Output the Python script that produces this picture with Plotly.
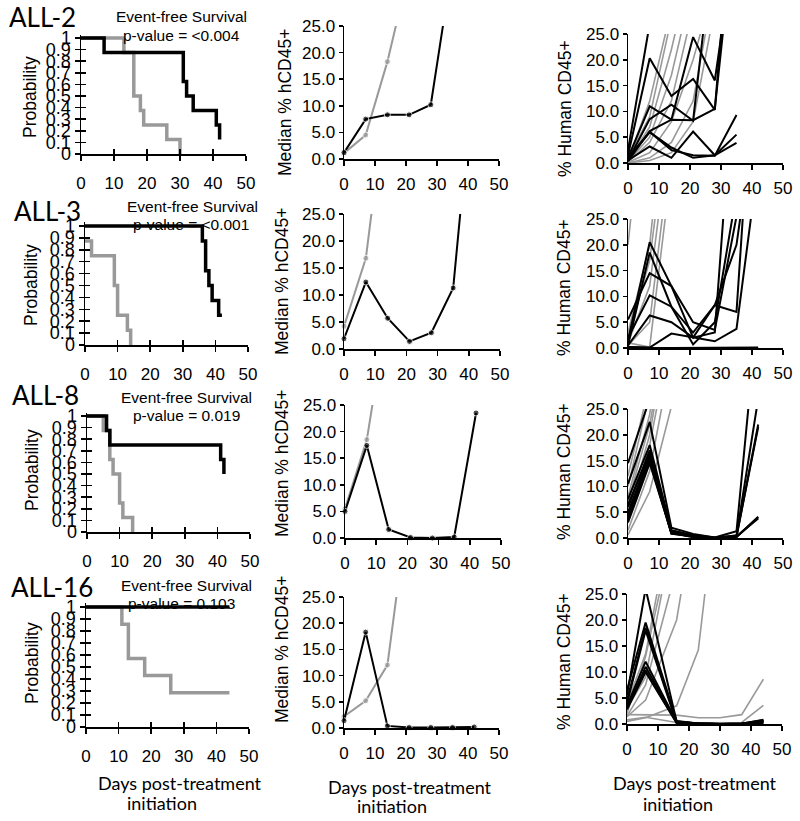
import plotly.graph_objects as go

W, H = 800, 821
BLACK = "#000000"
GRAY = "#999999"

# ---------------- DATA ----------------
# Kaplan-Meier event-free survival: days and survival probability
km2_ctrl_days = [0, 13, 16, 18, 19, 26, 30]
km2_ctrl_surv = [1, 0.875, 0.5, 0.375, 0.25, 0.125, 0]
km2_trt_days = [0, 7, 31, 32, 34, 41, 42]
km2_trt_surv = [1, 0.875, 0.625, 0.5, 0.375, 0.25, 0.125]

km3_ctrl_days = [0, 2, 9, 10, 13, 14]
km3_ctrl_surv = [0.875, 0.75, 0.5, 0.25, 0.125, 0]
km3_trt_days = [0, 36, 37, 38, 39, 41, 42]
km3_trt_surv = [1, 0.875, 0.625, 0.5, 0.375, 0.25, 0.25]

km8_ctrl_days = [0, 5, 7, 8, 10, 11, 14]
km8_ctrl_surv = [1, 0.875, 0.625, 0.5, 0.25, 0.125, 0]
km8_trt_days = [0, 6, 7, 41, 42]
km8_trt_surv = [1, 0.875, 0.75, 0.625, 0.5]

km16_ctrl_days = [0, 11, 13, 18, 26, 44]
km16_ctrl_surv = [1, 0.857, 0.571, 0.429, 0.286, 0.286]
km16_trt_days = [0, 44]
km16_trt_surv = [1, 1]

# Median % hCD45+
median_days = [0, 7, 14, 21, 28, 35, 42]
med2_ctrl = [1.1, 4.5, 18.3, 35.5]
med2_trt = [1.2, 7.5, 8.3, 8.3, 10.2, 36.7]
med3_ctrl = [4.2, 16.8, 49.0]
med3_trt = [1.9, 12.4, 5.7, 1.4, 3.0, 11.3, 54.0]
med8_ctrl = [5.5, 18.5, 44.0]
med8_trt = [5.0, 17.4, 1.6, 0.1, 0.0, 0.2, 23.5]
med16_ctrl = [2.2, 5.2, 12.0, 43.5]
med16_trt = [1.4, 18.3, 0.4, 0.1, 0.1, 0.1, 0.2]

# Individual mice % human CD45+
mice_days = [0, 7, 14, 21, 28, 35, 42]
mice16_days = [0, 6, 16, 23, 30, 37, 44]

mice2_ctrl = [
    [0.5, 12, 30], [1.0, 9, 28], [0.5, 7, 22, 40], [0.3, 5, 17, 35],
    [0.2, 4, 12, 30], [0.1, 2, 8, 20, 35], [0.0, 1, 4, 12, 35], [0.0, 0.5, 2, 8, 30],
]
mice2_trt = [
    [2.5, 27], [1.5, 20.3, 13.0, 16.3, 10.3, 61], [1.0, 11.0, 8.4, 24.4, 16.0, 45],
    [0.5, 8.5, 11.3, 8.2, 45], [0.3, 6.2, 8.4, 8.3, 10.5, 50],
    [0.8, 6.0, 2.5, 1.5, 1.4, 9.3], [0.5, 3.2, 1.0, 6.1, 1.5, 5.5], [1.0, 6.0, 3.0, 1.0, 1.5, 3.9],
]
mice3_ctrl = [
    [20, 60], [2.0, 17, 50], [1.0, 12, 45], [0.5, 5, 40], [1.0, 0.2, 35], [3.0, 20, 60],
]
mice3_trt = [
    [1.5, 20.5, 12.0, 2.0, 3.0, 60], [0.5, 18.5, 8.0, 0.7, 5.0, 30],
    [5.5, 14.5, 12.0, 5.0, 3.5, 25.5, 50], [2.0, 10.2, 8.0, 3.0, 8.3, 7.0, 70],
    [0.5, 6.3, 5.0, 2.0, 8.3, 20, 50], [0.2, 0.1, 2.8, 2.0, 1.3, 3.7, 36],
    [0.2, 0.0, 0.0, 0.0, 0.0, 0.0, 0.1],
]
mice8_ctrl = [
    [12, 30], [10, 28], [8, 24, 50], [7, 22, 45], [5, 20, 45], [3, 18, 40],
    [1.5, 13, 35], [0.6, 9, 25.5, 40],
]
mice8_trt = [
    [14.5, 27], [10.5, 22.5, 2.0, 0.8, 0.1, 1.3, 45], [7.5, 18, 1.5, 0.5, 0, 0.3, 22],
    [6, 17, 1.2, 0.3, 0, 0.3, 21.5], [5, 16, 1.0, 0.2, 0, 0.5, 27],
    [4, 15.5, 0.9, 0.2, 0, 0.2, 4], [3.5, 15, 0.8, 0.4, 0, 0.3, 3.8],
    [3, 14.5, 1.0, 0.3, 0, 0.2, 4.1], [6.5, 16.5, 1.4, 0.6, 0.1, 0.5], [4.5, 15.8, 1.2, 0.4, 0.05, 0.3],
]
mice16_ctrl = [
    [1.5, 7.5, 30], [2, 13, 40], [4, 13.5, 45], [3, 9, 40], [1.4, 4.6, 20, 45],
    [0.5, 1.2, 3.5, 14.2, 50], [1.8, 1.8, 1.7, 1.2, 1.2, 1.8, 8.6], [0.8, 1.3, 0.3, 0.2, 0.2, 0.3, 3.6],
]
mice16_trt = [
    [5.5, 26, 0.5, 0.1, 0, 0, 0.6], [6.5, 19.5, 0.6, 0.1, 0.05, 0.05, 0.8],
    [4.5, 18.5, 0.4, 0.1, 0, 0.1, 0.7], [4, 18, 0.3, 0, 0, 0, 0.5],
    [3.5, 12, 0.4, 0.1, 0, 0.1, 0.4], [3, 11, 0.5, 0, 0, 0, 0.6],
    [3.2, 10.3, 0.3, 0.1, 0, 0, 0.3], [2.8, 10, 0.2, 0, 0, 0, 0.2],
]

row_labels = ["ALL-2", "ALL-3", "ALL-8", "ALL-16"]
pvalue_labels = ["p-value = <0.004", "p-value = <0.001", "p-value = 0.019", "p-value = 0.103"]
km_tick_vals = [0, 0.1, 0.2, 0.3, 0.4, 0.5, 0.6, 0.7, 0.8, 0.9, 1]
km_tick_text = ["0", "0.1", "0.2", "0.3", "0.4", "0.5", "0.6", "0.7", "0.8", "0.9", "1"]
day_ticks = [0, 10, 20, 30, 40, 50]
pct_ticks = [0, 5, 10, 15, 20, 25]
pct_tick_text = ["0.0", "5.0", "10.0", "15.0", "20.0", "25.0"]

rows = [
    dict(km=[(km2_ctrl_days, km2_ctrl_surv), (km2_trt_days, km2_trt_surv)],
         med=(med2_ctrl, med2_trt), mice=(mice2_ctrl, mice2_trt, mice_days)),
    dict(km=[(km3_ctrl_days, km3_ctrl_surv), (km3_trt_days, km3_trt_surv)],
         med=(med3_ctrl, med3_trt), mice=(mice3_ctrl, mice3_trt, mice_days)),
    dict(km=[(km8_ctrl_days, km8_ctrl_surv), (km8_trt_days, km8_trt_surv)],
         med=(med8_ctrl, med8_trt), mice=(mice8_ctrl, mice8_trt, mice_days)),
    dict(km=[(km16_ctrl_days, km16_ctrl_surv), (km16_trt_days, km16_trt_surv)],
         med=(med16_ctrl, med16_trt), mice=(mice16_ctrl, mice16_trt, mice16_days)),
]

# ---------------- GEOMETRY (pixels) ----------------
# (x of 0, x of 50, y of top value, y of 0)
km_geom = [(81, 246, 38, 154), (85, 248, 226, 345), (87, 250, 416, 532), (86, 249, 607, 727)]
med_geom = [(344, 499, 26, 159), (344, 500, 214, 349), (345, 501, 405, 538), (344, 499, 597, 728)]
mice_geom = [(628, 783, 34, 163), (628, 783, 219, 348), (628, 783, 409, 538), (627, 782, 594, 724)]

all_pos = [(7, 17), (12, 211), (10, 395), (9, 587)]
efs_pos = [(181, 17), (192, 206), (186, 397), (186, 585)]
pv_pos = [(181, 36), (191, 224), (186, 415), (181, 603)]
prob_pos = [(30, 97), (31, 285), (32, 470), (32, 663)]
med_title_pos = [(285, 103), (282, 282), (282, 464), (282, 650)]
mice_title_pos = [(565, 109), (564, 288), (564, 472), (564, 662)]

KM_TOP = 1.03


def xd(a, b):
    return [a / W, b / W]


def yd(top, bottom):
    return [1 - bottom / H, 1 - top / H]


def aid(n):
    return "" if n == 1 else str(n)


tickfont = dict(family="Liberation Sans, Arial, sans-serif", size=17, color="black")
common = dict(showgrid=False, zeroline=False, showline=True, linecolor="black", linewidth=1.5,
              ticks="outside", tickcolor="black", tickwidth=1.5, tickfont=tickfont,
              fixedrange=True, tickangle=0, automargin=False)

fig = go.Figure()
layout = dict(template="none", width=W, height=H, margin=dict(l=0, r=0, t=0, b=0, autoexpand=False),
              paper_bgcolor="white", plot_bgcolor="white", showlegend=False, hovermode=False)
annotations = []


def ann(text, x, y, size, family, xanchor="center", angle=0):
    annotations.append(dict(text=text, x=x / W, y=1 - y / H, xref="paper", yref="paper",
                            xanchor=xanchor, yanchor="middle", showarrow=False, textangle=angle,
                            font=dict(family=family, size=size, color="black")))


for r, row in enumerate(rows):
    # ---- Kaplan-Meier ----
    n = r * 3 + 1
    x0, x50, y1, y0 = km_geom[r]
    ytop = y0 - (y0 - y1) * KM_TOP
    layout["xaxis" + aid(n)] = dict(common, domain=xd(x0, x50), anchor="y" + aid(n), range=[0, 50],
                                    tickvals=day_ticks, ticklen=5, ticklabelstandoff=8)
    layout["yaxis" + aid(n)] = dict(common, domain=yd(ytop, y0), anchor="x" + aid(n), range=[0, KM_TOP],
                                    tickvals=km_tick_vals, ticktext=km_tick_text, ticklen=5,
                                    tickfont=dict(tickfont, size=18))
    ox = 12 + 2 * r + 1
    oy = 12 + 2 * r + 2
    layout["xaxis" + str(ox)] = dict(showgrid=False, zeroline=False, showline=False, overlaying="x" + aid(n),
                                     anchor="y" + aid(n), domain=xd(x0, x50), range=[0, 50], tickvals=day_ticks[1:],
                                     ticks="inside", ticklen=5, tickwidth=1.5, tickcolor="black",
                                     showticklabels=False, fixedrange=True, automargin=False)
    layout["yaxis" + str(oy)] = dict(showgrid=False, zeroline=False, showline=False, overlaying="y" + aid(n),
                                     anchor="x" + aid(n), domain=yd(ytop, y0), range=[0, KM_TOP],
                                     tickvals=km_tick_vals, ticks="inside", ticklen=5, tickwidth=1.5,
                                     tickcolor="black", showticklabels=False, fixedrange=True, automargin=False)
    fig.add_trace(go.Scatter(x=[None], y=[None], xaxis="x" + str(ox), yaxis="y" + aid(n), hoverinfo="skip"))
    fig.add_trace(go.Scatter(x=[None], y=[None], xaxis="x" + aid(n), yaxis="y" + str(oy), hoverinfo="skip"))
    for (days, surv), col in zip(row["km"], [GRAY, BLACK]):
        fig.add_trace(go.Scatter(x=days, y=surv, mode="lines", xaxis="x" + aid(n), yaxis="y" + aid(n),
                                 line=dict(color=col, width=3.5, shape="hv")))

    # ---- Median ----
    n = r * 3 + 2
    x0, x50, y25, y0 = med_geom[r]
    layout["xaxis" + aid(n)] = dict(common, domain=xd(x0, x50), anchor="y" + aid(n), range=[0, 50],
                                    tickvals=day_ticks, ticklen=5, ticklabelstandoff=4)
    layout["yaxis" + aid(n)] = dict(common, domain=yd(y25, y0), anchor="x" + aid(n), range=[0, 25],
                                    tickvals=pct_ticks, ticktext=pct_tick_text, ticklen=4)
    for vals, col in zip(row["med"], [GRAY, BLACK]):
        fig.add_trace(go.Scatter(x=median_days[:len(vals)], y=vals, mode="lines+markers",
                                 xaxis="x" + aid(n), yaxis="y" + aid(n), cliponaxis=False,
                                 line=dict(color=col, width=2),
                                 marker=dict(color=col, size=[6 if v <= 25 else 0 for v in vals])))

    # ---- Individual mice ----
    n = r * 3 + 3
    x0, x50, y25, y0 = mice_geom[r]
    layout["xaxis" + aid(n)] = dict(common, domain=xd(x0, x50), anchor="y" + aid(n), range=[0, 50],
                                    tickvals=day_ticks, ticklen=5, ticklabelstandoff=4)
    layout["yaxis" + aid(n)] = dict(common, domain=yd(y25, y0), anchor="x" + aid(n), range=[0, 25],
                                    tickvals=pct_ticks, ticktext=pct_tick_text, ticklen=4)
    ctrl, trt, mdays = row["mice"]
    for vals in ctrl:
        fig.add_trace(go.Scatter(x=mdays[:len(vals)], y=vals, mode="lines", xaxis="x" + aid(n),
                                 yaxis="y" + aid(n), line=dict(color=GRAY, width=1.6)))
    for vals in trt:
        fig.add_trace(go.Scatter(x=mdays[:len(vals)], y=vals, mode="lines", xaxis="x" + aid(n),
                                 yaxis="y" + aid(n), line=dict(color=BLACK, width=2)))

    # ---- texts ----
    ann(row_labels[r], all_pos[r][0], all_pos[r][1], 26, "Lato, Noto Sans, sans-serif", xanchor="left")
    ann("Event-free Survival", efs_pos[r][0], efs_pos[r][1], 15.5, "Liberation Sans, Arial")
    ann(pvalue_labels[r], pv_pos[r][0], pv_pos[r][1], 15.5, "Liberation Sans, Arial")
    ann("Probability", prob_pos[r][0], prob_pos[r][1], 17.5, "Liberation Sans, Arial", angle=-90)
    ann("Median % hCD45+", med_title_pos[r][0], med_title_pos[r][1], 17.5, "Liberation Sans, Arial", angle=-90)
    ann("% Human CD45+", mice_title_pos[r][0], mice_title_pos[r][1], 17.5, "Liberation Sans, Arial", angle=-90)

# bottom labels
for (cx1, cy1), (cx2, cy2) in [((180, 783), (162, 803)), ((410, 787), (392, 806)), ((695, 783), (678, 804))]:
    ann("Days post-treatment", cx1, cy1, 18, "Lato, Noto Sans, sans-serif")
    ann("initiation", cx2, cy2, 18, "Lato, Noto Sans, sans-serif")

layout["annotations"] = annotations
fig.update_layout(**layout)
fig.write_html(
    "out.html",
    config={"displayModeBar": False, "staticPlot": True},
    post_script="document.body.style.margin='0';document.body.style.padding='0';"
                "document.documentElement.style.overflow='hidden';",
)
